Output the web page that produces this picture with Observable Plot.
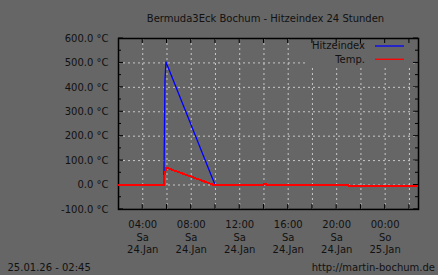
<!DOCTYPE html>
<html><head><meta charset="utf-8">
<script src="https://cdn.jsdelivr.net/npm/d3@7"></script>
<script src="https://cdn.jsdelivr.net/npm/@observablehq/plot@0.6"></script>
<style>html,body{margin:0;padding:0;background:#666;overflow:hidden;}</style>
</head><body><div id="chart"></div>
<script>
const title = "Bermuda3Eck Bochum - Hitzeindex 24 Stunden";
const stamp = "25.01.26 - 02:45";
const site = "http://martin-bochum.de";
const seriesNames = ["Hitzeindex", "Temp."];
const seriesColors = ["#0000ff", "#ff0000"];

const hitzeTimes = ["2026-01-24T05:45Z","2026-01-24T05:47Z","2026-01-24T05:50Z","2026-01-24T05:55Z","2026-01-24T09:58Z"];
const hitzeValues = [33, 186, 432, 504, 0];

const tempTimes = ["2026-01-24T02:00Z","2026-01-24T05:44Z","2026-01-24T05:45Z","2026-01-24T05:57Z","2026-01-24T09:53Z","2026-01-24T13:56Z","2026-01-24T13:57Z","2026-01-24T14:11Z","2026-01-24T14:12Z","2026-01-24T20:59Z","2026-01-24T21:00Z","2026-01-25T02:36Z"];
const tempValues = [0, 0, 33, 71, 0, 0, 4, 4, 0, 0, -4, -4];

const xDomain = ["2026-01-24T02:00Z", "2026-01-25T02:45Z"];
const yDomain = [-100, 600];
const yTicks = [-100, 0, 100, 200, 300, 400, 500, 600];
const yMinorTicks = [-50, 50, 150, 250, 350, 450, 550];
const xGridTimes = ["2026-01-24T04:00Z","2026-01-24T06:00Z","2026-01-24T08:00Z","2026-01-24T10:00Z","2026-01-24T12:00Z","2026-01-24T14:00Z","2026-01-24T16:00Z","2026-01-24T18:00Z","2026-01-24T20:00Z","2026-01-24T22:00Z","2026-01-25T00:00Z","2026-01-25T02:00Z"];
const xTickTimes = ["2026-01-24T04:00Z","2026-01-24T08:00Z","2026-01-24T12:00Z","2026-01-24T16:00Z","2026-01-24T20:00Z","2026-01-25T00:00Z"];
const xTickHours = ["04:00","08:00","12:00","16:00","20:00","00:00"];
const xTickDays = ["Sa","Sa","Sa","Sa","Sa","So"];
const xTickDates = ["24.Jan","24.Jan","24.Jan","24.Jan","24.Jan","25.Jan"];

const hitze = hitzeTimes.map((t, i) => ({t: new Date(t), v: hitzeValues[i]}));
const temp = tempTimes.map((t, i) => ({t: new Date(t), v: tempValues[i]}));
const xGrid = xGridTimes.map(d => new Date(d));
const xTicks = xTickTimes.map(d => new Date(d));
const xLabel = new Map(xTicks.map((d, i) => [+d, xTickHours[i] + "\n" + xTickDays[i] + "\n" + xTickDates[i]]));
const ink = "#111";

const legendBlank = (index, scales, values, dims) => {
  const right = dims.width - dims.marginRight, top = dims.marginTop;
  const g = d3.create("svg:g");
  g.append("rect").attr("x", right - 110).attr("y", top).attr("width", 105).attr("height", 27).attr("fill", "#666");
  return g.node();
};

const ticksMark = (index, scales, values, dims) => {
  const {x, y} = scales;
  const x0 = dims.marginLeft, x1 = dims.width - dims.marginRight;
  const y0 = dims.marginTop, y1 = dims.height - dims.marginBottom;
  const g = d3.create("svg:g").attr("stroke", "#000").attr("stroke-width", 1);
  yTicks.forEach(v => {
    g.append("line").attr("x1", x0).attr("x2", x0 + 5).attr("y1", y(v)).attr("y2", y(v));
    g.append("line").attr("x1", x1 - 5).attr("x2", x1).attr("y1", y(v)).attr("y2", y(v));
  });
  yMinorTicks.forEach(v => {
    g.append("line").attr("x1", x0).attr("x2", x0 + 3).attr("y1", y(v)).attr("y2", y(v));
    g.append("line").attr("x1", x1 - 3).attr("x2", x1).attr("y1", y(v)).attr("y2", y(v));
  });
  xGrid.forEach(t => {
    g.append("line").attr("x1", x(t)).attr("x2", x(t)).attr("y1", y1).attr("y2", y1 - 5);
    g.append("line").attr("x1", x(t)).attr("x2", x(t)).attr("y1", y0).attr("y2", y0 + 5);
  });
  return g.node();
};

const legendMark = (index, scales, values, dims) => {
  const right = dims.width - dims.marginRight, top = dims.marginTop;
  const g = d3.create("svg:g");
  seriesNames.forEach((name, i) => {
    const yy = top + 8 + i * 13.3;
    g.append("text").attr("x", right - 53).attr("y", yy).attr("dy", "0.32em")
      .attr("text-anchor", "end").attr("fill", ink).text(name);
    g.append("line").attr("x1", right - 43).attr("x2", right - 14).attr("y1", yy).attr("y2", yy)
      .attr("stroke", seriesColors[i]).attr("stroke-width", 1.3);
  });
  return g.node();
};

const chart = Plot.plot({
  width: 438,
  height: 275,
  marginLeft: 118,
  marginRight: 20,
  marginTop: 38,
  marginBottom: 66.08,
  style: {background: "#666", color: ink, fontFamily: "DejaVu Sans", fontSize: "10px"},
  x: {type: "utc", domain: xDomain.map(d => new Date(d))},
  y: {domain: yDomain},
  marks: [
    Plot.gridX(xGrid, {stroke: "#c8c8c8", strokeOpacity: 1, strokeDasharray: "2,3"}),
    Plot.gridY(yTicks.filter(v => v > -100 && v < 600), {stroke: "#c8c8c8", strokeOpacity: 1, strokeDasharray: "2,3"}),
    legendBlank,
    Plot.frame({stroke: "#000", strokeWidth: 1.5}),
    ticksMark,
    Plot.axisY(yTicks, {anchor: "left", tickSize: 0, tickPadding: 10, tickFormat: d => d.toFixed(1) + " °C", label: null, fill: ink}),
    Plot.axisX(xTicks, {anchor: "bottom", tickSize: 0, tickPadding: 9.5, tickFormat: d => xLabel.get(+d), lineHeight: 1.27, label: null, fill: ink}),
    Plot.line(hitze, {x: "t", y: "v", stroke: seriesColors[0], strokeWidth: 1.3}),
    Plot.line(temp, {x: "t", y: "v", stroke: seriesColors[1], strokeWidth: 2, shapeRendering: "crispEdges"}),
    legendMark,
    Plot.text([title], {text: d => d, frameAnchor: "top", dx: -3, dy: -20, lineAnchor: "middle", fill: ink}),
    Plot.text([stamp], {text: d => d, frameAnchor: "bottom-left", dx: -111, dy: 58.4, textAnchor: "start", lineAnchor: "middle", fill: ink}),
    Plot.text([site], {text: d => d, frameAnchor: "bottom-right", dx: 16.5, dy: 58.4, textAnchor: "end", lineAnchor: "middle", fill: ink})
  ]
});
document.getElementById("chart").append(chart);
</script>
</body></html>
